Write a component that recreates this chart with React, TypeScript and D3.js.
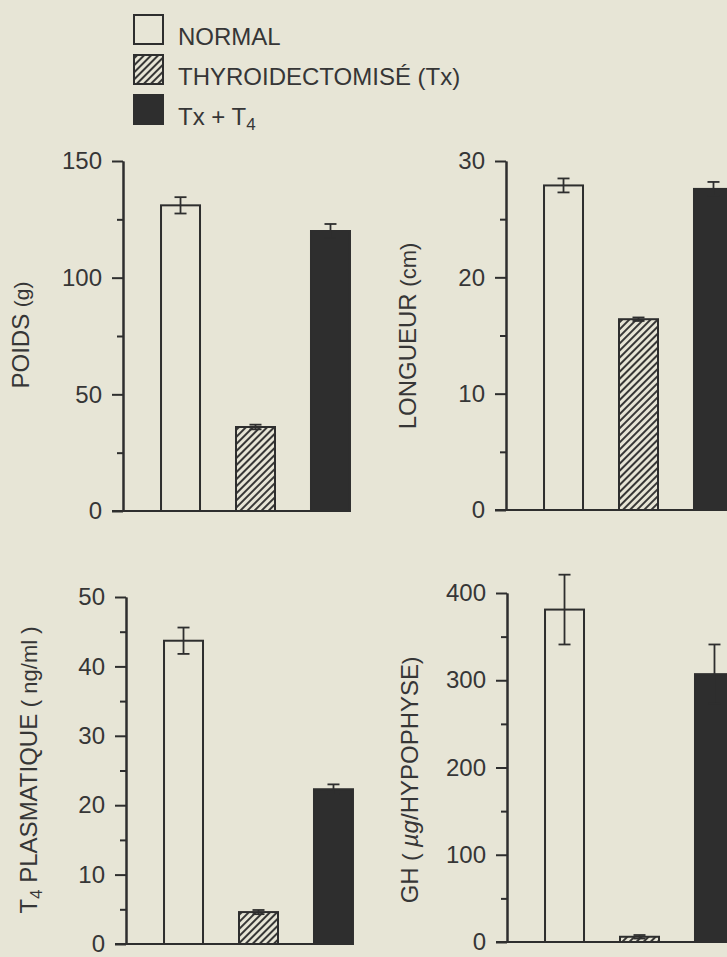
import React, { useEffect, useRef } from 'react';
import * as d3 from 'd3';

// groups (legend order)
const groups = ['NORMAL', 'THYROIDECTOMISÉ (Tx)', 'Tx + T4'];

// POIDS (g)
const poidsMean = [131, 36, 120];
const poidsErr = [3.5, 1, 3];
const poidsTicks = [0, 50, 100, 150];
const poidsMinor = [25, 75, 125];

// LONGUEUR (cm)
const longueurMean = [27.9, 16.4, 27.6];
const longueurErr = [0.6, 0.15, 0.6];
const longueurTicks = [0, 10, 20, 30];
const longueurMinor = [5, 15, 25];

// T4 PLASMATIQUE (ng/ml)
const t4Mean = [43.7, 4.6, 22.3];
const t4Err = [1.9, 0.3, 0.7];
const t4Ticks = [0, 10, 20, 30, 40, 50];
const t4Minor = [5, 15, 25, 35, 45];

// GH (µg/HYPOPHYSE)
const ghMean = [381, 6, 307];
const ghErr = [40, 2, 34];
const ghTicks = [0, 100, 200, 300, 400];
const ghMinor = [50, 150, 250, 350];

const W = 727, H = 957;
const BG = '#e7e5d6';
const INK = '#2e2e2e';
const TXT = '#363636';
const FONT = '"Liberation Sans", Arial, sans-serif';

export default function App() {
  const ref = useRef(null);

  useEffect(() => {
    const svg = d3.select(ref.current);
    svg.selectAll('*').remove();

    const defs = svg.append('defs');
    const pat = defs.append('pattern')
      .attr('id', 'hatch')
      .attr('patternUnits', 'userSpaceOnUse')
      .attr('width', 5)
      .attr('height', 5)
      .attr('patternTransform', 'rotate(45)');
    pat.append('rect').attr('width', 5).attr('height', 5).attr('fill', BG);
    pat.append('line')
      .attr('x1', 1).attr('y1', 0).attr('x2', 1).attr('y2', 5)
      .attr('stroke', INK).attr('stroke-width', 1.9);

    const fills = [BG, 'url(#hatch)', INK];

    svg.append('rect').attr('width', W).attr('height', H).attr('fill', BG);

    // legend
    const leg = svg.append('g');
    groups.forEach((name, i) => {
      const base = 45 + i * 40;
      leg.append('rect')
        .attr('x', 134).attr('y', base - 30).attr('width', 29).attr('height', 29)
        .attr('fill', fills[i]).attr('stroke', INK).attr('stroke-width', 2);
      const t = leg.append('text')
        .attr('x', 178).attr('y', base)
        .attr('font-family', FONT).attr('font-size', 24).attr('fill', TXT);
      if (i === 2) {
        t.text('Tx + T');
        t.append('tspan').attr('font-size', 17).attr('dy', 5).text('4');
      } else {
        t.text(name);
      }
    });

    const panels = [
      { mean: poidsMean, err: poidsErr, ticks: poidsTicks, minor: poidsMinor, ax: 123, top: 161, bottom: 511, lx: 29, ly: 335 },
      { mean: longueurMean, err: longueurErr, ticks: longueurTicks, minor: longueurMinor, ax: 506, top: 161, bottom: 510, lx: 416, ly: 336 },
      { mean: t4Mean, err: t4Err, ticks: t4Ticks, minor: t4Minor, ax: 126, top: 597, bottom: 944, lx: 37, ly: 770 },
      { mean: ghMean, err: ghErr, ticks: ghTicks, minor: ghMinor, ax: 507, top: 593, bottom: 942, lx: 418, ly: 780 },
    ];

    panels.forEach((p, pi) => {
      const g = svg.append('g');
      const max = p.ticks[p.ticks.length - 1];
      const y = d3.scaleLinear().domain([0, max]).range([p.bottom, p.top]);
      const x = d3.scaleBand().domain(groups).range([p.ax, p.ax + 265]).paddingInner(0.48).paddingOuter(0.507);

      // bars
      groups.forEach((gname, i) => {
        g.append('rect')
          .attr('x', x(gname))
          .attr('y', y(p.mean[i]))
          .attr('width', x.bandwidth())
          .attr('height', y(0) - y(p.mean[i]))
          .attr('fill', fills[i])
          .attr('stroke', INK)
          .attr('stroke-width', 2);
        const cx = x(gname) + x.bandwidth() / 2;
        const y1 = y(p.mean[i] + p.err[i]);
        const y2 = y(p.mean[i] - p.err[i]);
        g.append('line').attr('x1', cx).attr('x2', cx).attr('y1', y1).attr('y2', y2)
          .attr('stroke', INK).attr('stroke-width', 1.8);
        [y1, y2].forEach((yy) => {
          g.append('line').attr('x1', cx - 6).attr('x2', cx + 6).attr('y1', yy).attr('y2', yy)
            .attr('stroke', INK).attr('stroke-width', 1.8);
        });
      });

      // axes
      const major = d3.axisLeft(y).tickValues(p.ticks).tickSize(11).tickSizeOuter(0).tickPadding(10);
      const minor = d3.axisLeft(y).tickValues(p.minor).tickSize(6).tickSizeOuter(0).tickFormat(() => '');
      const ga = g.append('g').attr('transform', `translate(${p.ax},0)`).call(major);
      g.append('g').attr('transform', `translate(${p.ax},0)`).call(minor);
      g.selectAll('.domain').attr('stroke', INK).attr('stroke-width', 2);
      g.selectAll('.tick line').attr('stroke', INK).attr('stroke-width', 2);
      ga.selectAll('.tick text')
        .attr('font-family', FONT).attr('font-size', 24).attr('fill', TXT);

      const last = groups[groups.length - 1];
      g.append('line')
        .attr('x1', p.ax - 11).attr('x2', x(last) + x.bandwidth())
        .attr('y1', y(0)).attr('y2', y(0))
        .attr('stroke', INK).attr('stroke-width', 2);

      // y label
      const t = g.append('text')
        .attr('transform', `translate(${p.lx},${p.ly}) rotate(-90)`)
        .attr('text-anchor', 'middle')
        .attr('font-family', FONT).attr('font-size', 24).attr('fill', TXT);
      if (pi === 0) {
        t.text('POIDS ');
        t.append('tspan').attr('font-size', 21).text('(g)');
      } else if (pi === 1) {
        t.text('LONGUEUR ');
        t.append('tspan').attr('font-size', 22).text('(cm)');
      } else if (pi === 2) {
        t.text('T');
        t.append('tspan').attr('font-size', 17).attr('dy', 5).text('4');
        t.append('tspan').attr('dy', -5).text(' PLASMATIQUE ');
        t.append('tspan').attr('font-size', 22).text('( ng/ml )');
      } else {
        t.text('GH ');
        t.append('tspan').attr('font-size', 22).text('( ');
        t.append('tspan').attr('font-style', 'italic').text('µg');
        t.append('tspan').text('/HYPOPHYSE');
        t.append('tspan').attr('font-size', 22).text(')');
      }
    });
  }, []);

  return (
    <svg ref={ref} width={W} height={H}
      style={{ position: 'absolute', left: 0, top: 0, display: 'block' }} />
  );
}
